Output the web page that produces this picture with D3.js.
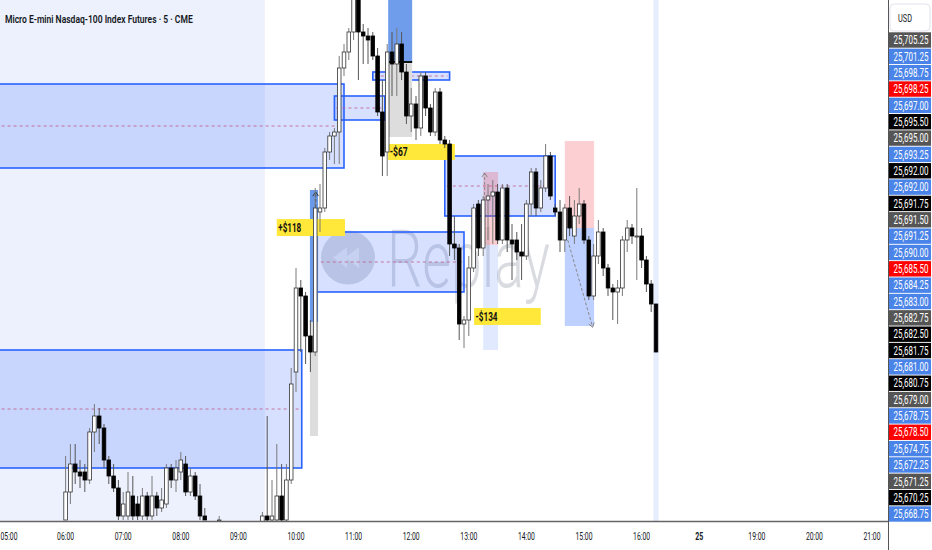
<!DOCTYPE html>
<html><head><meta charset="utf-8">
<script src="https://cdn.jsdelivr.net/npm/d3@7/dist/d3.min.js"></script>
<style>
body{margin:0;background:#fff;}
svg{display:block;font-family:Roboto,"Liberation Sans",sans-serif;}
</style>
</head><body>
<svg id="chart" width="932" height="550"></svg>
<script>
// ---------------- DATA ----------------
const title = "Micro E-mini Nasdaq-100 Index Futures · 5 · CME";

const times = ["06:00","06:05","06:10","06:15","06:20","06:25","06:30","06:35","06:40","06:45","06:50","06:55",
"07:00","07:05","07:10","07:15","07:20","07:25","07:30","07:35","07:40","07:45","07:50","07:55",
"08:00","08:05","08:10","08:15","08:20","08:25","08:40","09:25",
"09:30","09:35","09:40","09:45","09:50","09:55",
"10:00","10:05","10:10","10:15","10:20","10:25","10:30","10:35","10:40","10:45","10:50","10:55",
"11:00","11:05","11:10","11:15","11:20","11:25","11:30","11:35","11:40","11:45","11:50","11:55",
"12:00","12:05","12:10","12:15","12:20","12:25","12:30","12:35","12:40","12:45","12:50","12:55",
"13:00","13:05","13:10","13:15","13:20","13:25","13:30","13:35","13:40","13:45","13:50","13:55",
"14:00","14:05","14:10","14:15","14:20","14:25","14:30","14:35","14:40","14:45","14:50","14:55",
"15:00","15:05","15:10","15:15","15:20","15:25","15:30","15:35","15:40","15:45","15:50","15:55",
"16:00","16:05","16:10","16:15"];

const opens = [25671.25,25673.0,25674.75,25674.25,25674.25,25673.75,25676.75,25677.75,25677.0,25675.0,25674.0,25673.25,
25671.5,25671.5,25672.75,25672.25,25671.5,25672.75,25671.5,25672.75,25672.0,25672.25,25674.5,25673.75,
25674.25,25674.75,25673.0,25674.0,25672.75,25671.5,25671.25,25671.0,
25671.5,25671.25,25671.25,25672.75,25671.25,25673.75,
25680.5,25685.75,25685.25,25682.75,25681.75,25690.5,25690.75,25694.25,25695.25,25695.5,25699.5,25700.5,
25701.75,25704.0,25701.75,25701.5,25701.5,25700.25,25696.75,25694.25,25700.5,25699.75,25701.0,25699.25,
25696.5,25697.25,25695.75,25699.0,25697.0,25695.5,25698.0,25695.0,25694.75,25688.5,25688.25,25683.5,
25683.75,25687.0,25691.0,25688.25,25691.25,25691.5,25691.75,25688.75,25692.0,25688.75,25688.75,25688.0,
25687.75,25691.0,25693.0,25690.75,25692.0,25694.0,25690.75,25690.5,25688.75,25690.75,25689.0,25690.25,
25691.0,25688.75,25685.25,25687.75,25689.25,25687.0,25685.75,25685.5,25685.75,25688.75,25689.5,25689.0,
25689.0,25687.5,25686.0,25684.75];

const highs = [25675.25,25676.0,25676.0,25675.0,25674.75,25677.0,25678.5,25678.25,25677.25,25675.25,25674.75,25673.75,
25673.0,25674.25,25674.0,25672.75,25673.25,25673.0,25674.0,25673.0,25673.25,25674.75,25674.75,25675.0,
25675.5,25675.25,25674.5,25674.25,25673.5,25672.0,25671.5,25671.75,
25677.75,25673.75,25676.0,25674.75,25674.75,25680.75,
25687.0,25686.25,25685.5,25683.75,25692.0,25692.25,25694.5,25695.5,25695.75,25700.25,25701.0,25702.0,
25704.75,25704.5,25702.25,25702.0,25701.75,25700.75,25698.75,25701.0,25701.75,25702.0,25701.75,25699.75,
25698.25,25697.75,25699.25,25699.25,25697.25,25698.25,25698.25,25695.25,25695.0,25690.25,25688.5,25684.0,
25687.75,25691.0,25691.25,25691.5,25692.25,25692.5,25692.25,25692.25,25692.25,25689.75,25689.25,25689.75,
25691.25,25693.25,25693.25,25692.5,25694.75,25694.25,25691.0,25691.25,25691.0,25691.5,25691.25,25692.0,
25691.25,25689.0,25688.5,25690.0,25689.5,25687.25,25686.0,25686.25,25689.0,25690.0,25689.75,25692.0,
25689.5,25687.75,25686.25,25684.75];

const lows = [25671.25,25672.25,25673.5,25673.25,25673.0,25673.5,25675.5,25676.0,25674.5,25673.5,25673.0,25671.25,
25671.25,25671.25,25671.25,25671.25,25671.25,25671.25,25671.25,25671.5,25671.75,25672.0,25673.25,25673.0,
25673.75,25672.75,25672.75,25672.5,25671.25,25671.25,25671.0,25671.0,
25671.0,25671.0,25671.0,25671.0,25671.0,25673.5,
25679.25,25681.75,25681.0,25680.5,25681.5,25689.25,25690.5,25693.75,25693.5,25693.5,25699.0,25700.0,
25701.25,25698.75,25699.75,25699.75,25700.0,25696.5,25692.75,25692.75,25697.75,25697.75,25698.75,25696.0,
25695.5,25695.0,25695.25,25696.5,25695.25,25695.25,25694.75,25694.5,25687.75,25687.5,25682.5,25682.0,
25682.75,25686.75,25687.75,25687.75,25688.75,25688.5,25688.5,25688.5,25688.0,25686.25,25687.5,25686.25,
25687.5,25690.25,25690.25,25690.5,25691.75,25691.25,25690.25,25688.0,25688.0,25689.0,25688.5,25689.75,
25688.5,25685.0,25685.0,25687.25,25686.5,25685.25,25683.75,25683.5,25685.25,25688.0,25688.5,25686.25,
25687.0,25685.5,25684.25,25681.75];

const closes = [25673.0,25674.75,25674.25,25674.0,25673.75,25676.75,25677.75,25677.0,25675.0,25674.0,25673.25,25671.5,
25672.25,25673.0,25671.5,25671.5,25672.75,25671.5,25672.75,25672.0,25672.5,25674.5,25673.75,25674.5,
25675.0,25673.0,25674.0,25672.75,25671.5,25671.25,25671.25,25671.5,
25671.25,25671.5,25672.75,25671.25,25673.75,25679.75,
25685.75,25685.25,25682.75,25681.75,25690.75,25690.75,25694.25,25695.25,25695.5,25699.5,25700.5,25701.75,
25704.0,25701.75,25701.5,25701.25,25700.25,25696.75,25694.0,25700.5,25699.75,25701.0,25699.25,25696.5,
25697.25,25695.75,25699.0,25697.0,25695.5,25698.0,25695.0,25694.75,25688.5,25688.25,25683.5,25683.75,
25687.0,25690.75,25688.25,25691.25,25691.5,25691.75,25688.75,25692.0,25688.75,25688.5,25688.0,25687.75,
25691.0,25693.0,25690.75,25692.0,25694.0,25691.5,25690.5,25688.75,25690.75,25689.5,25690.25,25691.0,
25688.75,25685.25,25687.75,25689.25,25687.0,25685.75,25685.5,25685.75,25688.75,25689.5,25689.0,25689.0,
25687.5,25686.0,25684.75,25681.75];

// time axis
const tickTimes  = ["05:00","06:00","07:00","08:00","09:00","10:00","11:00","12:00","13:00","14:00","15:00","16:00","18:00","19:00","20:00","21:00"];
const tickLabels = ["05:00","06:00","07:00","08:00","09:00","10:00","11:00","12:00","13:00","14:00","15:00","16:00","25","19:00","20:00","21:00"];

// price-axis labels (stacked)
const priceLabels = ["25,705.25","25,701.25","25,698.75","25,698.25","25,697.00","25,695.50","25,695.00","25,693.25","25,692.00","25,692.00",
"25,691.75","25,691.50","25,691.25","25,690.00","25,685.50","25,684.25","25,683.00","25,682.75","25,682.50","25,681.75",
"25,681.00","25,680.75","25,679.00","25,678.75","25,678.50","25,674.75","25,672.25","25,671.25","25,670.25","25,668.75"];
const priceLabelKinds = ["gray","blue","blue","red","blue","black","gray","blue","black","blue",
"black","gray","blue","blue","red","blue","blue","gray","black","black",
"blue","black","gray","blue","red","blue","blue","gray","black","blue"];

// zones (bar-index start/end, price top/bottom)
const zoneStart = [-3, 68, 76, 91, 63.5, -3];
const zoneEnd   = [70, 78.5, 92, 114, 95, 61.2];
const zoneTop   = [25698.5, 25697.75, 25699.25, 25694.0, 25689.25, 25681.875];
const zoneBot   = [25693.25, 25696.25, 25698.75, 25690.25, 25685.5, 25674.5];

// position tools
const posKind   = ["long","long","short","short"];
const posStart  = [62.9, 79.2, 99.0, 116.0];
const posEnd    = [64.6, 84.2, 102.1, 122.1];
const posTarget = [25691.875, 25704.5, 25681.875, 25683.375];
const posEntry  = [25683.625, 25699.875, 25688.44, 25689.5];
const posStop   = [25676.5, 25695.19, 25693.0, 25694.94];

// P&L tags
const tagText  = ["+$118", "-$67", "-$134"];
const tagStart = [56.0, 79.2, 97.1];
const tagEnd   = [70.2, 93.1, 111.0];
const tagTop   = [25690.06, 25694.75, 25684.5];
const tagBot   = [25689.0, 25693.75, 25683.44];

// ---------------- DRAW ----------------
const svg = d3.select("#chart");
const plotR = 888, plotB = 521;
const idx = t => { const [h, m] = t.split(":").map(Number); const hh = h >= 18 ? h - 1 : h; return (hh - 5) * 12 + m / 5; };
const x = d3.scaleLinear().domain([0, 180]).range([8, 872]);
const y = d3.scaleLinear().domain([25671.1875, 25703.75]).range([plotB, 0]);

// text squeezed horizontally to a target width (the reference is a horizontally condensed screenshot)
function fitText(parent, str, X, Y, w, anchor, size, weight, fill) {
  const gg = parent.append("g");
  const t = gg.append("text").attr("x", 0).attr("y", 0).attr("text-anchor", anchor)
    .attr("font-size", size).attr("font-weight", weight).attr("fill", fill).text(str);
  const L = t.node().getComputedTextLength() || w;
  gg.attr("transform", `translate(${X},${Y}) scale(${(w / L).toFixed(4)},1)`);
  return t;
}

svg.append("defs").append("clipPath").attr("id", "plot")
  .append("rect").attr("x", 0).attr("y", 0).attr("width", plotR).attr("height", plotB);
const g = svg.append("g").attr("clip-path", "url(#plot)");

// pre-market session shading
g.append("rect").attr("x", x(-3)).attr("y", 0).attr("width", x(53.5) - x(-3)).attr("height", plotB).attr("fill", "#edf1fd");
// current bar highlight
g.append("rect").attr("x", x(135) - 2.6).attr("y", 0).attr("width", 5.2).attr("height", plotB).attr("fill", "#e6edfc");

// watermark
const wm = g.append("g");
wm.append("circle").attr("cx", 348).attr("cy", 257.5).attr("r", 27).attr("fill", "rgba(105,112,130,0.25)");
wm.append("path").attr("d", "M333,257.5 L347,247 L347,268 Z M345,257.5 L359,247 L359,268 Z").attr("fill", "rgba(255,255,255,0.45)");
fitText(wm, "Replay", 387, 287, 163, "start", 80, 300, "rgba(105,112,130,0.25)");

// zones
zoneStart.forEach((s, k) => {
  const x0 = x(s), x1 = x(zoneEnd[k]), y0 = y(zoneTop[k]), y1 = y(zoneBot[k]);
  g.append("rect").attr("x", x0).attr("y", y0).attr("width", x1 - x0).attr("height", y1 - y0)
    .attr("fill", "rgba(41,98,255,0.19)").attr("stroke", "#2962ff").attr("stroke-width", 1.6);
  const ym = y((zoneTop[k] + zoneBot[k]) / 2);
  g.append("line").attr("x1", x0 + 2).attr("x2", x1 - 2).attr("y1", ym).attr("y2", ym)
    .attr("stroke", "#c2608f").attr("stroke-width", 1).attr("stroke-dasharray", "3,3").attr("opacity", 0.85);
});

// position tools
const targetFill = ["#6b99e9", "#6f9deb", "rgba(41,98,255,0.14)", "rgba(41,98,255,0.30)"];
posKind.forEach((kind, k) => {
  const x0 = x(posStart[k]), x1 = x(posEnd[k]);
  const yT = y(posTarget[k]), yE = y(posEntry[k]), yS = y(posStop[k]);
  if (kind === "long") {
    g.append("rect").attr("x", x0).attr("y", yT).attr("width", x1 - x0).attr("height", yE - yT).attr("fill", targetFill[k]);
    g.append("rect").attr("x", x0).attr("y", yE).attr("width", x1 - x0).attr("height", yS - yE).attr("fill", "#dddddd");
  } else {
    g.append("rect").attr("x", x0).attr("y", yS).attr("width", x1 - x0).attr("height", yE - yS).attr("fill", "rgba(242,54,69,0.24)");
    g.append("rect").attr("x", x0).attr("y", yE).attr("width", x1 - x0).attr("height", yT - yE).attr("fill", targetFill[k]);
  }
});
// entry line of the 11:35 long
g.append("line").attr("x1", x(posStart[1])).attr("x2", x(posEnd[1])).attr("y1", y(posEntry[1])).attr("y2", y(posEntry[1]))
  .attr("stroke", "#111").attr("stroke-width", 2);

// trade paths
function arrowPath(xa, ya, xb, yb, color) {
  g.append("line").attr("x1", xa).attr("y1", ya).attr("x2", xb).attr("y2", yb)
    .attr("stroke", color).attr("stroke-width", 1).attr("stroke-dasharray", "3,2");
  const ang = Math.atan2(yb - ya, xb - xa), L = 5;
  const p1 = [xb - L * Math.cos(ang - 0.6), yb - L * Math.sin(ang - 0.6)];
  const p2 = [xb - L * Math.cos(ang + 0.6), yb - L * Math.sin(ang + 0.6)];
  g.append("path").attr("d", `M${p1[0]},${p1[1]} L${xb},${yb} L${p2[0]},${p2[1]}`).attr("fill", "none").attr("stroke", color).attr("stroke-width", 1);
}
arrowPath(x(64.1), y(posEntry[0]), x(64.1), y(posTarget[0]) + 2, "#333");
arrowPath(x(99.3), y(posEntry[2]), x(99.3), y(posStop[2]) + 1, "#888");
arrowPath(x(116.6), y(25688.75), x(121.8), y(25683.3), "#888");

// P&L tags
const tagWidth = [23, 18, 22];
tagText.forEach((t, k) => {
  const x0 = x(tagStart[k]), x1 = x(tagEnd[k]), y0 = y(tagTop[k]), y1 = y(tagBot[k]);
  g.append("rect").attr("x", x0).attr("y", y0).attr("width", x1 - x0).attr("height", y1 - y0).attr("fill", "#ffe83a");
  fitText(g, t, x0 + 1.5, (y0 + y1) / 2 + 4.2, tagWidth[k], "start", 12.5, "bold", "#111");
});

// candles
const bars = times.map((t, k) => ({ i: idx(t), o: opens[k], h: highs[k], l: lows[k], c: closes[k] }));
const bw = 3.6;
const cg = g.append("g");
bars.forEach(b => {
  const up = b.c >= b.o, cx = x(b.i);
  cg.append("line").attr("x1", cx).attr("x2", cx).attr("y1", y(b.h)).attr("y2", y(b.l))
    .attr("stroke", up ? "#7a7a7a" : "#555").attr("stroke-width", 1);
  const yt = y(Math.max(b.o, b.c)), yb = y(Math.min(b.o, b.c));
  cg.append("rect").attr("x", cx - bw / 2).attr("y", yt).attr("width", bw).attr("height", Math.max(1, yb - yt))
    .attr("fill", up ? "#ffffff" : "#000000").attr("stroke", up ? "#333" : "#000").attr("stroke-width", 0.8);
});

// ---------------- AXES ----------------
svg.append("line").attr("x1", 0).attr("x2", plotR).attr("y1", plotB + 0.5).attr("y2", plotB + 0.5).attr("stroke", "#666").attr("stroke-width", 1.6);
svg.append("line").attr("x1", plotR + 0.5).attr("x2", plotR + 0.5).attr("y1", 0).attr("y2", 550).attr("stroke", "#555").attr("stroke-width", 1);
tickTimes.forEach((t, k) => {
  const lab = tickLabels[k];
  const X = Math.max(x(idx(t)), 9);
  fitText(svg, lab, X, 539.5, lab === "25" ? 8 : 17, "middle", 11, lab === "25" ? "bold" : "normal", "#131722");
});

// price labels
const labelColor = { blue: "#4a84e8", red: "#ff0000", black: "#000000", gray: "#555555" };
const py = d3.scalePoint().domain(d3.range(priceLabels.length)).range([40, 514]);
priceLabels.forEach((s, k) => {
  const cy = py(k);
  svg.append("rect").attr("x", plotR + 1).attr("y", cy - 7.7).attr("width", 931 - plotR - 1).attr("height", 15.4)
    .attr("fill", labelColor[priceLabelKinds[k]]);
  fitText(svg, s, 911, cy + 4.2, 35, "middle", 12, "normal", "#fff");
});
// currency box
svg.append("rect").attr("x", 890).attr("y", 4).attr("width", 40).attr("height", 27).attr("rx", 4)
  .attr("fill", "#fff").attr("stroke", "#e0e3eb");
fitText(svg, "USD", 898, 21.5, 14, "start", 11.5, "normal", "#131722");

// title
fitText(svg, title, 5, 23, 188, "start", 11.5, 600, "#131722");
</script>
</body></html>
